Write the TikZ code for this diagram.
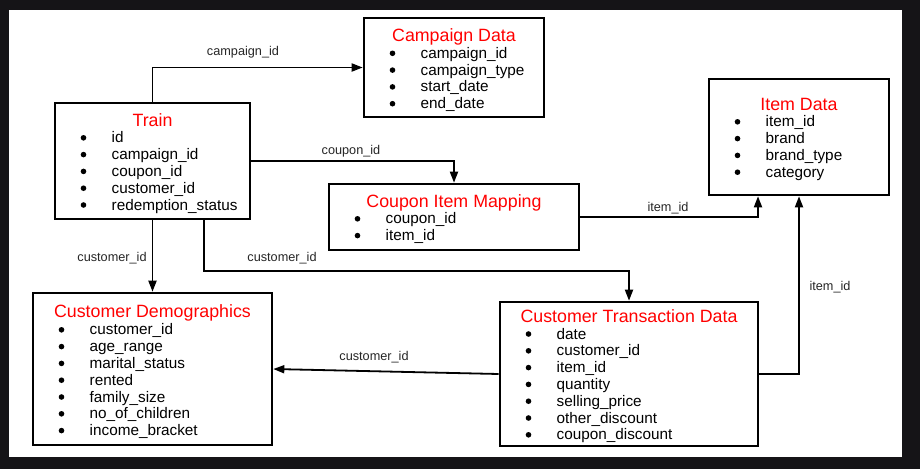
\documentclass[tikz,border=0pt]{standalone}
\usepackage{fontspec}
\setmainfont{Liberation Sans}
\usetikzlibrary{arrows.meta}
\definecolor{frame}{RGB}{21,20,23}

\begin{document}
\begin{tikzpicture}[x=1pt, y=-1pt,
    tablebox/.style = {draw, line width=2.6pt, inner sep=0pt},
    tabletitle/.style = {anchor=base, inner sep=0pt, text=red, font=\fontsize{17.8}{20}\selectfont},
    fieldtext/.style = {anchor=base west, inner sep=0pt, font=\fontsize{15.3}{18}\selectfont},
    idlabel/.style = {anchor=base, inner sep=0pt, text=black!85, font=\fontsize{12.7}{15}\selectfont},
    link/.style = {line width=1.8pt, -{Triangle[length=11pt,width=8pt]}}]

        \fill[frame] (0,0) rectangle (920,469);
        \fill[white] (9,10) rectangle (902,457);

        % Train
        \node[tablebox, minimum width=195pt, minimum height=116pt] (train) at (152.5,161) {};
        \node[tabletitle] (train-title) at (152.5,126) {Train};
        \foreach \f [count=\i] in {id,campaign\_id,coupon\_id,customer\_id,redemption\_status} {
            \fill (83.5,{126+16.8*\i-5}) circle (2.8pt);
            \node[fieldtext] (train-\i) at (111.5,{126+16.8*\i}) {\f};
        }

        % Campaign Data
        \node[tablebox, minimum width=180pt, minimum height=99pt] (campaign) at (454,67.5) {};
        \node[tabletitle] (campaign-title) at (454,41.5) {Campaign Data};
        \foreach \f [count=\i] in {campaign\_id,campaign\_type,start\_date,end\_date} {
            \fill (392.5,{41.5+16.8*\i-5}) circle (2.8pt);
            \node[fieldtext] (campaign-\i) at (420.5,{41.5+16.8*\i}) {\f};
        }

        % Item Data
        \node[tablebox, minimum width=180pt, minimum height=116pt] (item) at (799,137) {};
        \node[tabletitle] (item-title) at (799,110) {Item Data};
        \foreach \f [count=\i] in {item\_id,brand,brand\_type,category} {
            \fill (737.5,{110+16.8*\i-5}) circle (2.8pt);
            \node[fieldtext] (item-\i) at (765.5,{110+16.8*\i}) {\f};
        }

        % Coupon Item Mapping
        \node[tablebox, minimum width=250pt, minimum height=66pt] (coupon) at (454,217) {};
        \node[tabletitle] (coupon-title) at (454,207) {Coupon Item Mapping};
        \foreach \f [count=\i] in {coupon\_id,item\_id} {
            \fill (357.5,{207+16.8*\i-5}) circle (2.8pt);
            \node[fieldtext] (coupon-\i) at (385.5,{207+16.8*\i}) {\f};
        }

        % Customer Demographics
        \node[tablebox, minimum width=239pt, minimum height=152pt] (demo) at (152.5,369) {};
        \node[tabletitle] (demo-title) at (152.5,317) {Customer Demographics};
        \foreach \f [count=\i] in {customer\_id,age\_range,marital\_status,rented,family\_size,no\_of\_children,income\_bracket} {
            \fill (61.5,{318+16.8*\i-5}) circle (2.8pt);
            \node[fieldtext] (demo-\i) at (89.5,{318+16.8*\i}) {\f};
        }

        % Customer Transaction Data
        \node[tablebox, minimum width=258pt, minimum height=144pt] (trans) at (629,374) {};
        \node[tabletitle] (trans-title) at (629,322) {Customer Transaction Data};
        \foreach \f [count=\i] in {date,customer\_id,item\_id,quantity,selling\_price,other\_discount,coupon\_discount} {
            \fill (528.5,{322.2+16.8*\i-5}) circle (2.8pt);
            \node[fieldtext] (trans-\i) at (556.5,{322.2+16.8*\i}) {\f};
        }

        % links
        \draw[link] (train.north) |- (campaign.west);
        \draw[link] (train.east) -| (coupon.north);
        \draw[link] (train.south) -- (demo.north);
        \coordinate (bend) at (204,271);
        \draw[link] (train.south -| bend) -- (bend) -| (trans.north);
        \draw[link] (coupon.east) -| ([xshift=-41pt]item.south);
        \draw[link] (trans.east) -| (item.south);
        \draw[link] (trans.west) -- (demo.east);

        \node[idlabel] (l-campaign) at (243,55) {campaign\_id};
        \node[idlabel] (l-coupon) at (351,154) {coupon\_id};
        \node[idlabel] (l-demo) at (112,261) {customer\_id};
        \node[idlabel] (l-trans) at (282,261) {customer\_id};
        \node[idlabel] (l-back) at (374,360) {customer\_id};
        \node[idlabel] (l-map) at (668,211) {item\_id};
        \node[idlabel] (l-item) at (830,290) {item\_id};

\end{tikzpicture}
\end{document}
